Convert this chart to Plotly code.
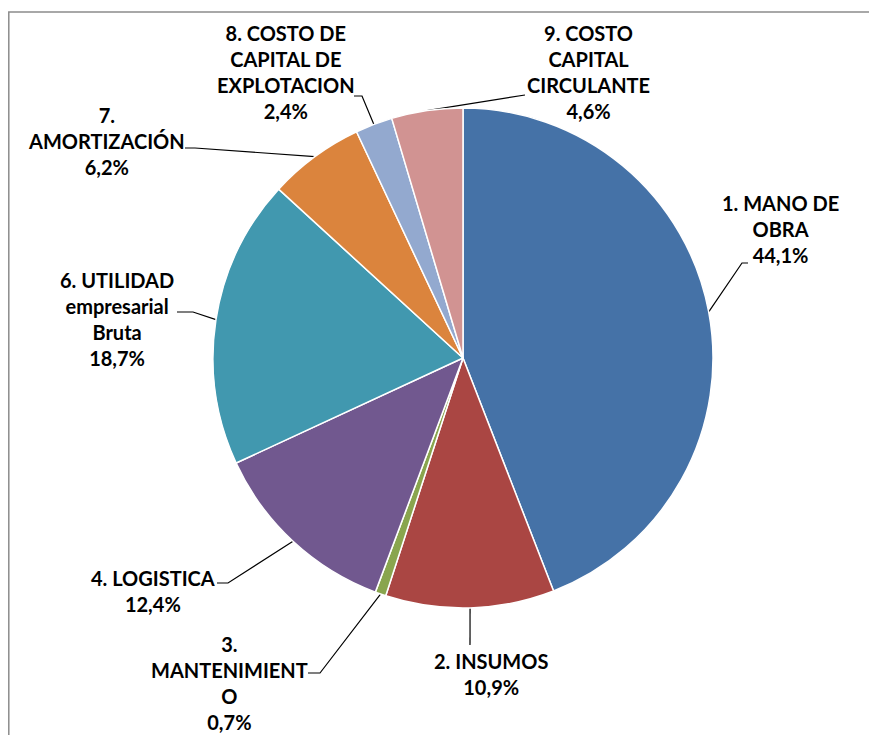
import numpy as np
import plotly.graph_objects as go

# datos del grafico
categorias = ["1. MANO DE OBRA", "2. INSUMOS", "3. MANTENIMIENTO", "4. LOGISTICA",
              "6. UTILIDAD empresarial Bruta", "7. AMORTIZACIÓN",
              "8. COSTO DE CAPITAL DE EXPLOTACION", "9. COSTO CAPITAL CIRCULANTE"]
porcentajes = [44.1, 10.9, 0.7, 12.4, 18.7, 6.2, 2.4, 4.6]
etiquetas = ["1. MANO DE<br>OBRA<br>44,1%", "2. INSUMOS<br>10,9%",
             "3.<br>MANTENIMIENT<br>O<br>0,7%", "4. LOGISTICA<br>12,4%",
             "6. UTILIDAD<br>empresarial<br>Bruta<br>18,7%", "7.<br>AMORTIZACIÓN<br>6,2%",
             "8. COSTO DE<br>CAPITAL DE<br>EXPLOTACION<br>2,4%",
             "9. COSTO<br>CAPITAL<br>CIRCULANTE<br>4,6%"]

COLORS = ["#4572A7", "#AA4643", "#89A54E", "#71588F", "#4198AF", "#DB843D", "#93A9CF", "#D19392"]

# el body de la pagina tiene 8px de margen: se trabaja en pixeles de la ventana
OFF = 8
WIN_W, WIN_H = 877, 735
W, H = WIN_W - OFF, WIN_H - OFF
CX, CY, R = 463, 358, 250

# posicion del texto (centro) y codo de la linea guia, en pixeles de la ventana
label_pos = [(780, 229), (491, 674), (229, 683), (153, 591), (117, 319), (106, 141), (286, 72), (588, 72)]
elbows = [[(748, 263), (742, 263)], [(470, 645)], [(308, 673), (320, 673)], [(217, 583), (228, 583)],
          [(177, 312), (193, 312)], [(185, 148), (195, 148)], [(354, 96), (362, 96)], [(525, 95)]]

fig = go.Figure()
fig.add_trace(go.Pie(
    labels=categorias, values=porcentajes, sort=False, direction="clockwise", rotation=0,
    marker=dict(colors=COLORS, line=dict(color="white", width=1.5)),
    textinfo="none", hoverinfo="label+percent", showlegend=False,
    domain=dict(x=[(CX - R - OFF) / W, (CX + R - OFF) / W],
                y=[(WIN_H - CY - R) / H, (WIN_H - CY + R) / H]),
))

# lineas guia desde el borde del sector hasta la etiqueta
vals = np.array(porcentajes)
mid = (np.cumsum(vals) - vals / 2) / vals.sum() * 2 * np.pi
lx, ly = [], []
for ang, pts in zip(mid, elbows):
    px_, py_ = CX + R * np.sin(ang), CY - R * np.cos(ang)
    for x, y in pts:
        lx.append(x); ly.append(y)
    lx += [px_, None]; ly += [py_, None]
fig.add_trace(go.Scatter(x=lx, y=ly, mode="lines", line=dict(color="black", width=1.2),
                         hoverinfo="skip", showlegend=False))

for txt, (x, y) in zip(etiquetas, label_pos):
    fig.add_annotation(x=x, y=y, xref="x", yref="y", text=f"<b>{txt}</b>", showarrow=False,
                       font=dict(family="Lato", size=20, color="black"), align="center")

fig.add_shape(type="rect", xref="x", yref="y", x0=8.8, y0=12, x1=890, y1=750,
              line=dict(color="#8c8c8c", width=1.5))

fig.update_layout(
    width=W, height=H, margin=dict(l=0, r=0, t=0, b=0),
    paper_bgcolor="white", plot_bgcolor="white",
    xaxis=dict(range=[OFF, WIN_W], visible=False, domain=[0, 1], fixedrange=True),
    yaxis=dict(range=[WIN_H, OFF], visible=False, domain=[0, 1], fixedrange=True),
)
fig.write_html("out.html")
